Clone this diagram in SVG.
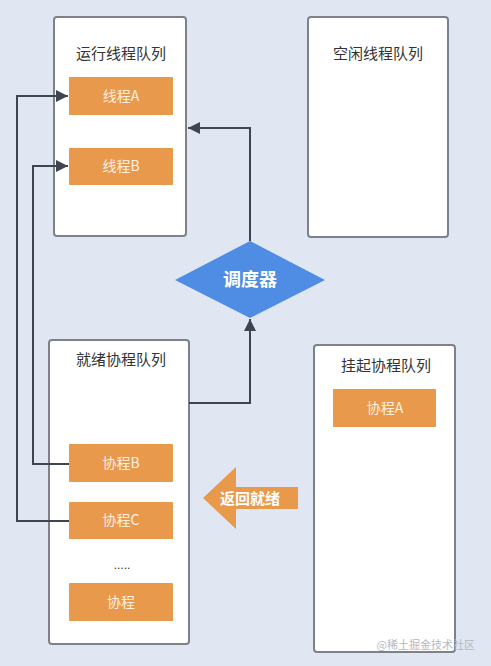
<svg xmlns="http://www.w3.org/2000/svg" width="491" height="666" viewBox="0 0 491 666">
<defs>
<style>
.bg{fill:#e0e7f3}
.box{fill:#ffffff;stroke:#7d828a;stroke-width:2}
.item{fill:#e8994c}
.title{font-family:"Noto Sans CJK SC","Liberation Sans",sans-serif;font-size:15px;fill:#333333;text-anchor:middle}
.lbl{font-family:"Noto Sans CJK SC","Liberation Sans",sans-serif;font-size:14px;fill:#fdf0e2;text-anchor:middle}
.conn{fill:none;stroke:#3f4550;stroke-width:2}
</style>
<marker id="ah" viewBox="0 0 10 10" refX="10" refY="5" markerWidth="6" markerHeight="6" orient="auto" markerUnits="strokeWidth">
<path d="M0,0 L10,5 L0,10 z" fill="#3f4550"/>
</marker>
</defs>
<rect class="bg" x="0" y="0" width="491" height="666"/>

<g id="running-threads">
<rect class="box" x="54" y="17" width="132" height="219" rx="3"/>
<text class="title" x="121" y="59">运行线程队列</text>
</g>
<g id="thread-a">
<rect class="item" x="69" y="77" width="104" height="38" rx="1"/>
<text class="lbl" x="121" y="101">线程A</text>
</g>
<g id="thread-b">
<rect class="item" x="69" y="148" width="104" height="37" rx="1"/>
<text class="lbl" x="121" y="171">线程B</text>
</g>

<g id="idle-threads">
<rect class="box" x="308" y="17" width="140" height="220" rx="3"/>
<text class="title" x="378" y="59">空闲线程队列</text>
</g>

<g id="scheduler">
<polygon points="250,241 325,280 250,318 175,280" fill="#4f8de4"/>
<text x="250" y="286" font-family="'Noto Sans CJK SC','Liberation Sans',sans-serif" font-size="18" font-weight="bold" fill="#ffffff" text-anchor="middle">调度器</text>
</g>

<g id="ready-coroutines">
<rect class="box" x="49" y="340" width="140" height="304" rx="3"/>
<text class="title" x="121" y="365">就绪协程队列</text>
<text x="122" y="569" font-family="'Liberation Sans',sans-serif" font-size="12" fill="#333333" text-anchor="middle">.....</text>
</g>
<g id="coroutine-b">
<rect class="item" x="69" y="444" width="104" height="38" rx="1"/>
<text class="lbl" x="121" y="468">协程B</text>
</g>
<g id="coroutine-c">
<rect class="item" x="69" y="502" width="104" height="37" rx="1"/>
<text class="lbl" x="121" y="525">协程C</text>
</g>
<g id="coroutine">
<rect class="item" x="69" y="583" width="104" height="38" rx="1"/>
<text class="lbl" x="121" y="607">协程</text>
</g>

<g id="suspended-coroutines">
<rect class="box" x="314" y="345" width="141" height="307" rx="3"/>
<text class="title" x="386" y="371">挂起协程队列</text>
</g>
<g id="coroutine-a">
<rect class="item" x="333" y="389" width="103" height="38" rx="1"/>
<text class="lbl" x="385" y="413">协程A</text>
</g>

<g id="return-ready">
<polygon points="203,498 236,467 236,487 298,487 298,509 236,509 236,529" fill="#e8994c"/>
<text x="250" y="504" font-family="'Noto Sans CJK SC','Liberation Sans',sans-serif" font-size="15" font-weight="bold" fill="#ffffff" text-anchor="middle">返回就绪</text>
</g>

<g id="connectors">
<path class="conn" d="M69,521 H17 V96 H68" marker-end="url(#ah)"/>
<path class="conn" d="M69,464 H33 V166 H68" marker-end="url(#ah)"/>
<path class="conn" d="M250,241 V128 H188" marker-end="url(#ah)"/>
<path class="conn" d="M189,403 H250 V319" marker-end="url(#ah)"/>
</g>

<text x="475" y="649" font-family="'Noto Sans CJK SC','Liberation Sans',sans-serif" font-size="11" fill="#b5b9c0" text-anchor="end">@稀土掘金技术社区</text>
</svg>
